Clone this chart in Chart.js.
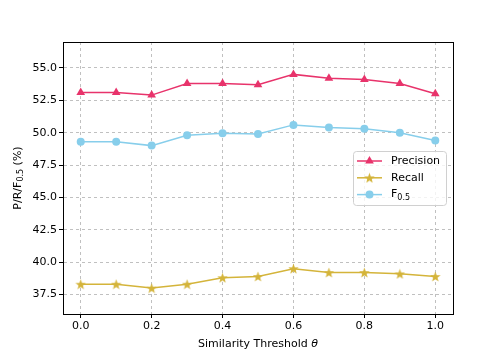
<!DOCTYPE html>
<html>
<head>
<meta charset="utf-8">
<script src="https://cdn.jsdelivr.net/npm/chart.js@4/dist/chart.umd.min.js"></script>
<style>
  html, body { margin:0; padding:0; background:#fff; }
  #wrap { width:504px; height:353px; }
</style>
</head>
<body>
<div id="wrap"><canvas id="grafico" width="504" height="353"></canvas></div>
<script>
// dados
const limiares  = [0.0, 0.1, 0.2, 0.3, 0.4, 0.5, 0.6, 0.7, 0.8, 0.9, 1.0];
const precisao  = [53.1, 53.1, 52.9, 53.8, 53.8, 53.7, 54.5, 54.2, 54.1, 53.8, 53.0];
const recall    = [38.3, 38.3, 38.0, 38.3, 38.8, 38.9, 39.5, 39.2, 39.2, 39.1, 38.9];
const f05       = [49.3, 49.3, 49.0, 49.8, 49.95, 49.9, 50.6, 50.4, 50.3, 50.0, 49.4];
const ticksX    = [0.0, 0.2, 0.4, 0.6, 0.8, 1.0];
const ticksY    = [37.5, 40.0, 42.5, 45.0, 47.5, 50.0, 52.5, 55.0];

const FONTE = 'DejaVu Sans';
const COR_P = '#e8336b';
const COR_R = '#d4b43a';
const COR_F = '#87ceeb';

// estrela preenchida (o 'star' do Chart.js é só contorno)
function estrela(cor, tam){
  const c = document.createElement('canvas');
  c.width = tam; c.height = tam;
  const g = c.getContext('2d');
  const cx = tam/2, cy = tam/2 + 0.5, R = tam/2, r = R*0.42;
  g.beginPath();
  for (let i = 0; i < 10; i++){
    const a = -Math.PI/2 + i*Math.PI/5;
    const rr = i % 2 ? r : R;
    g.lineTo(cx + rr*Math.cos(a), cy + rr*Math.sin(a));
  }
  g.closePath();
  g.fillStyle = cor;
  g.fill();
  return c;
}
const imgEstrela = estrela(COR_R, 11);

function pontos(ys){ return limiares.map((x,i)=>({x, y: ys[i]})); }

// texto em partes (subscrito / itálico)
function fonteParte(p){
  return (p.it ? 'italic ' : '') + (p.sub ? '8px ' : '11px ') + FONTE;
}
function textoSub(ctx, partes, x, y){
  let cx = x;
  partes.forEach(p => {
    ctx.font = fonteParte(p);
    ctx.fillText(p.t, cx, y + (p.sub ? 3 : 0));
    cx += ctx.measureText(p.t).width;
  });
  return cx - x;
}
function larguraSub(ctx, partes){
  let w = 0;
  partes.forEach(p => { ctx.font = fonteParte(p); w += ctx.measureText(p.t).width; });
  return w;
}

const legendaPartes = [
  [{t:'Precision'}],
  [{t:'Recall'}],
  [{t:'F'},{t:'0.5',sub:true}]
];

const pluginExtras = {
  id: 'extras',
  afterDraw(chart){
    const ctx = chart.ctx;
    const area = chart.chartArea;
    ctx.save();
    // moldura completa (topo e direita)
    ctx.strokeStyle = '#000';
    ctx.lineWidth = 1;
    ctx.strokeRect(Math.round(area.left)+0.5, Math.round(area.top)+0.5,
                   Math.round(area.right-area.left), Math.round(area.bottom-area.top));
    ctx.restore();

    ctx.save();
    ctx.fillStyle = '#000';
    ctx.textBaseline = 'middle';
    // titulo do eixo x
    const partesX = [{t:'Similarity Threshold '},{t:'θ',it:true}];
    const wx = larguraSub(ctx, partesX);
    textoSub(ctx, partesX, (area.left + area.right)/2 - wx/2, 344);
    // titulo do eixo y
    const partesY = [{t:'P/R/F'},{t:'0.5',sub:true},{t:' (%)'}];
    ctx.translate(18, (area.top + area.bottom)/2);
    ctx.rotate(-Math.PI/2);
    const w = larguraSub(ctx, partesY);
    textoSub(ctx, partesY, -w/2, 0);
    ctx.restore();

    // legenda dentro da área
    ctx.save();
    const bx = 353, by = 151, bw = 93, bh = 54;
    ctx.fillStyle = 'rgba(255,255,255,0.8)';
    ctx.strokeStyle = '#d0d0d0';
    ctx.lineWidth = 1;
    ctx.beginPath();
    ctx.roundRect(bx+0.5, by+0.5, bw, bh, 3);
    ctx.fill(); ctx.stroke();
    chart.data.datasets.forEach((ds, i) => {
      const y = by + 10 + i*16.8;
      ctx.strokeStyle = ds.borderColor;
      ctx.lineWidth = 1.5;
      ctx.beginPath(); ctx.moveTo(bx+4, y); ctx.lineTo(bx+29, y); ctx.stroke();
      if (ds.pointStyle instanceof HTMLCanvasElement){
        ctx.drawImage(ds.pointStyle, bx+16.5-ds.pointStyle.width/2, y-ds.pointStyle.height/2);
      } else {
        ctx.fillStyle = ds.pointBackgroundColor;
        Chart.helpers.drawPoint(ctx, {pointStyle: ds.pointStyle, radius: ds.pointRadius, borderWidth: 0}, bx+16.5, y);
      }
      ctx.fillStyle = '#000';
      ctx.textBaseline = 'middle';
      textoSub(ctx, legendaPartes[i], bx+38, y);
    });
    ctx.restore();
  }
};

const eixoBase = {
  type: 'linear',
  border: { color:'#000', width:1, dash:[3,3] },
  grid: {
    color:'#b0b0b0', lineWidth:0.8,
    drawTicks:true, tickLength:4, tickColor:'#000', tickBorderDash:[], tickWidth:1
  },
  ticks: { color:'#000', font:{family:FONTE, size:11}, padding:2 }
};

new Chart(document.getElementById('grafico'), {
  type: 'line',
  data: {
    datasets: [
      { label:'Precision', data: pontos(precisao), borderColor:COR_P, backgroundColor:COR_P,
        pointBackgroundColor:COR_P, pointBorderWidth:0, pointStyle:'triangle', pointRadius:5, borderWidth:1.5 },
      { label:'Recall', data: pontos(recall), borderColor:COR_R, backgroundColor:COR_R,
        pointBackgroundColor:COR_R, pointStyle:imgEstrela, pointRadius:5, borderWidth:1.5 },
      { label:'F0.5', data: pontos(f05), borderColor:COR_F, backgroundColor:COR_F,
        pointBackgroundColor:COR_F, pointBorderWidth:0, pointStyle:'circle', pointRadius:4, borderWidth:1.5 }
    ]
  },
  options: {
    responsive:false,
    animation:false,
    devicePixelRatio:1,
    layout:{ padding:{ left:0, top:42, right:51, bottom:0 } },
    plugins:{ legend:{display:false}, tooltip:{enabled:false} },
    scales:{
      x: Object.assign({}, eixoBase, {
        min:-0.05, max:1.05,
        afterBuildTicks(s){ s.ticks = ticksX.map(v=>({value:v})); },
        ticks: Object.assign({}, eixoBase.ticks, { callback:v=>v.toFixed(1) }),
        afterFit(s){ s.height = 39; }
      }),
      y: Object.assign({}, eixoBase, {
        min:36.0, max:57.0,
        afterBuildTicks(s){ s.ticks = ticksY.map(v=>({value:v})); },
        ticks: Object.assign({}, eixoBase.ticks, { callback:v=>v.toFixed(1) }),
        afterFit(s){ s.width = 63; }
      })
    }
  },
  plugins:[pluginExtras]
});
</script>
</body>
</html>
